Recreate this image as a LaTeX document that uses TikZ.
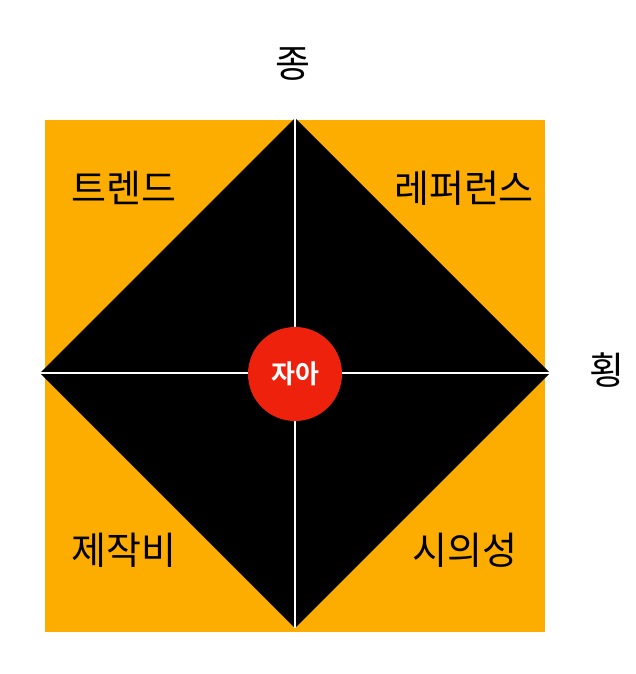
\documentclass[tikz,border=0pt]{standalone}
\usepackage{fontspec}
\newfontfamily\kr{Noto Sans CJK KR}
\newfontfamily\krb{Noto Sans CJK KR Bold}
\definecolor{orng}{HTML}{FDAD00}
\definecolor{rd}{HTML}{EE220C}
\begin{document}
\begin{tikzpicture}[x=1pt,y=-1pt,
  lbl/.style={font=\kr\fontsize{38}{44}\selectfont, inner sep=0pt},
  axis/.style={draw=white, line width=2pt}]
\useasboundingbox (0,0) rectangle (636,674);
\fill[orng] (45,120) rectangle (545,632);
\coordinate (T) at (295,118);
\coordinate (B) at (295,628);
\coordinate (L) at (40,373);
\coordinate (R) at (550,373);
\fill[black] (T) -- (R) -- (B) -- (L) -- cycle;
\draw[axis] (T) -- (B);
\draw[axis] (L) -- (R);
\node[circle, fill=rd, minimum size=94pt, inner sep=0pt, text=white,
  font=\krb\fontsize{26}{30}\selectfont] (self) at (295,374) {자아};
\node[lbl] (v) at (293,64) {종};
\node[lbl] (h) at (607,370) {횡};
\node[lbl] (tr) at (124,188) {트렌드};
\node[lbl] (rf) at (464,188) {레퍼런스};
\node[lbl] (jk) at (124,550) {제작비};
\node[lbl] (si) at (465,550) {시의성};
\end{tikzpicture}
\end{document}
